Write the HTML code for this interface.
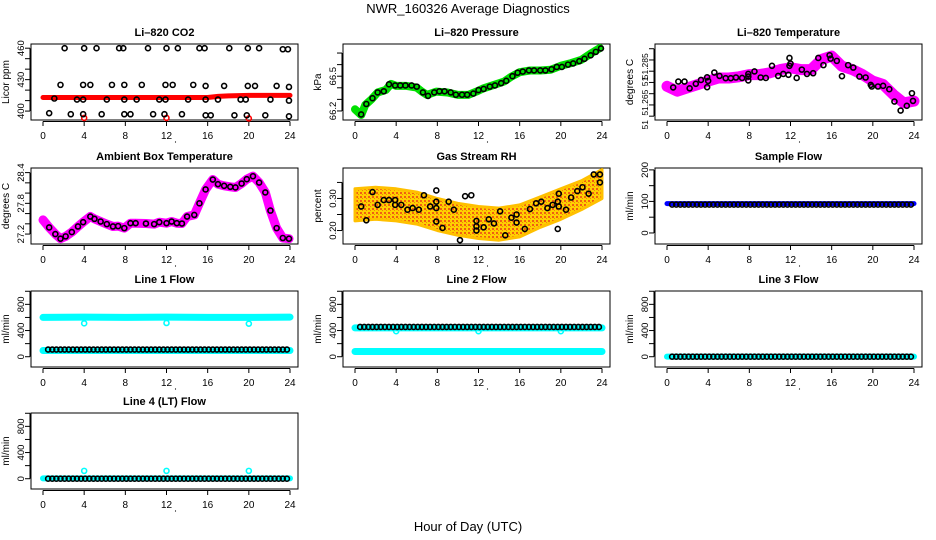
<!DOCTYPE html>
<html><head><meta charset="utf-8"><style>
html,body{margin:0;padding:0;background:#fff;}
svg{display:block;font-family:"Liberation Sans",Arial,sans-serif;}
</style></head><body>
<svg id="c" width="936" height="540" viewBox="0 0 936 540" xmlns="http://www.w3.org/2000/svg">
<defs>
<pattern id="rhpat" width="4" height="4" patternUnits="userSpaceOnUse">
<rect width="4" height="4" fill="#ffd000"/>
<rect x="0" y="0" width="2" height="2" fill="#f06010"/>
<rect x="2" y="2" width="1" height="1" fill="#f08010"/>
</pattern>
</defs>
<text x="468" y="13" font-size="13" text-anchor="middle">NWR_160326  Average Diagnostics</text>
<text x="468" y="531" font-size="13" text-anchor="middle">Hour of Day (UTC)</text>
</svg>
<script>
// ---- data ----
const flowHours=[0.5,0.9,1.3,1.7,2.1,2.5,2.9,3.3,3.7,4.1,4.5,4.9,5.3,5.7,6.1,6.5,6.9,7.3,7.7,8.1,8.5,8.9,9.3,9.7,10.1,10.5,10.9,11.3,11.7,12.1,12.5,12.9,13.3,13.7,14.1,14.5,14.9,15.3,15.7,16.1,16.5,16.9,17.3,17.7,18.1,18.5,18.9,19.3,19.7,20.1,20.5,20.9,21.3,21.7,22.1,22.5,22.9,23.3,23.7];
const sampleVals=[90,90,90,90,90,90,90,90,90,90,90,90,90,90,90,90,90,90,90,90,90,90,90,90,90,90,90,90,90,90,90,90,90,90,90,90,90,90,90,90,90,90,90,90,90,90,90,90,90,90,90,90,90,90,90,90,90,90,90];
const line1Vals=[110,110,110,110,110,110,110,110,110,110,110,110,110,110,110,110,110,110,110,110,110,110,110,110,110,110,110,110,110,110,110,110,110,110,110,110,110,110,110,110,110,110,110,110,110,110,110,110,110,110,110,110,110,110,110,110,110,110,110];
const line2Vals=[455,455,455,455,455,455,455,455,455,455,455,455,455,455,455,455,455,455,455,455,455,455,455,455,455,455,455,455,455,455,455,455,455,455,455,455,455,455,455,455,455,455,455,455,455,455,455,455,455,455,455,455,455,455,455,455,455,455,455];
const line3Vals=[0,0,0,0,0,0,0,0,0,0,0,0,0,0,0,0,0,0,0,0,0,0,0,0,0,0,0,0,0,0,0,0,0,0,0,0,0,0,0,0,0,0,0,0,0,0,0,0,0,0,0,0,0,0,0,0,0,0,0];
const line4Vals=[0,0,0,0,0,0,0,0,0,0,0,0,0,0,0,0,0,0,0,0,0,0,0,0,0,0,0,0,0,0,0,0,0,0,0,0,0,0,0,0,0,0,0,0,0,0,0,0,0,0,0,0,0,0,0,0,0,0,0];
const bandHours=[0,4,8,12,16,20,24];
const sampleBand=[93,93,93,93,93,93,93];
const line1BandHi=[600,605,600,605,600,600,605];
const line1BandLo=[95,95,95,95,95,95,95];
const line2BandHi=[440,440,440,440,440,440,440];
const line2BandLo=[80,80,80,80,80,80,80];
const line3Band=[2,2,2,2,2,2,2];
const line4Band=[5,5,5,5,5,5,5];
const spikeHours=[4,12,20];
const line1Spikes=[510,515,505];
const line2Spikes=[390,390,390];
const line4Spikes=[120,120,120];

const co2Hours=[2.1,4,5.2,7.4,7.8,10.2,12,13.1,15.2,15.7,18.1,19.9,21,23.3,23.8, 1.7,3.9,4.6,6.7,7.9,9.6,11.9,12.6,14.6,15.8,17.6,19.9,20.6,22.7,23.9, 1.1,3.3,3.9,6.2,7.9,9.1,11.3,11.9,14.1,15.8,17,19.2,19.7,22.1,23.9, 0.6,2.7,3.9,5.7,7.9,8.5,10.7,11.8,13.5,15.8,16.3,18.6,19.8,21.6,23.9];
const co2Vals=[460,460,460,460,460,460,460,460,460,460,460,460,460,459,459, 425,425,425,425,425,425,425,425,425,424,424,424,424,424,423, 412,411,411,411,411,411,411,411,411,411,411,411,411,411,410, 398,397,397,397,397,397,397,397,397,396,396,396,396,396,395];
const co2BandHours=[0,2,4,6,8,10,12,14,16,17,18,20,22,24];
const co2BandVals=[413,413,413,413,413,413,413,413,413,414,414.5,415,415,415];
const co2Red=[393.5,393.5,393];

const presBandHours=[0,0.6,1,1.6,2.2,3,3.5,4,5,6,6.5,7,7.9,9,10,11,11.8,12.5,13.5,14.5,15.2,16,17,18,19,20,21,22,23,23.8];
const presBandVals=[66.214,66.165,66.252,66.301,66.359,66.382,66.434,66.416,66.416,66.402,66.367,66.339,66.367,66.359,66.339,66.339,66.367,66.396,66.425,66.454,66.497,66.535,66.549,66.549,66.555,66.59,66.613,66.642,66.70,66.743];
const presHours=[0.6,1.1,1.7,2.2,2.8,3.3,3.9,4.4,4.9,5.5,6.0,6.6,7.1,7.7,8.2,8.7,9.3,9.8,10.4,10.9,11.5,12.0,12.5,13.1,13.6,14.2,14.7,15.3,15.8,16.3,16.9,17.4,18.0,18.5,19.1,19.6,20.1,20.7,21.2,21.8,22.3,22.9,23.4,23.9];
const presVals=[66.17,66.26,66.31,66.36,66.37,66.43,66.42,66.42,66.42,66.42,66.41,66.36,66.33,66.36,66.37,66.37,66.36,66.34,66.34,66.34,66.35,66.38,66.39,66.41,66.42,66.44,66.46,66.50,66.53,66.54,66.55,66.55,66.55,66.55,66.56,66.58,66.58,66.60,66.61,66.63,66.65,66.68,66.71,66.74];

const tempBandHours=[0,1,2,3,4,5,6,7,8,9,10,11,12,13,14,15,16,17,18,19,20,21,22,23,24];
const tempBandVals=[51.2733,51.2711,51.2726,51.2741,51.2756,51.2770,51.2770,51.2775,51.2785,51.2785,51.2793,51.2807,51.2815,51.2807,51.2807,51.2852,51.2867,51.2822,51.2807,51.2785,51.2756,51.2741,51.2696,51.2659,51.2667];
const tempHours=[0.6,1.1,1.7,2.2,2.8,3.3,3.9,3.9,4,4.6,5.1,5.7,6.2,6.7,7.3,7.9,7.9,7.9,8.5,9.1,9.6,10.2,10.8,11.3,11.8,11.9,11.9,12,12.6,13.1,13.6,14.2,14.7,15.2,15.8,15.9,16.5,17,17.6,18.1,18.7,19.3,19.8,19.9,20.5,21,21.6,22.1,22.7,23.3,23.8,23.9];
const tempVals=[51.2728,51.2754,51.2754,51.2724,51.2744,51.2761,51.2773,51.2729,51.2757,51.2794,51.2779,51.2769,51.2769,51.2772,51.2770,51.2776,51.2759,51.2788,51.2799,51.2772,51.2770,51.2824,51.2779,51.2788,51.2784,51.2824,51.2859,51.2834,51.2770,51.2807,51.2788,51.2791,51.2859,51.2827,51.2871,51.2856,51.2846,51.2778,51.2827,51.2816,51.2776,51.2772,51.2739,51.2732,51.2732,51.2735,51.2720,51.2665,51.2625,51.2646,51.2702,51.2668];
const tempLabelVals=[51.2562,51.266,51.2754,51.2822];
const tempLabelText=['51','51.265','51','51.285'];

const ambHours=[0,0.6,1.2,1.7,2.2,2.8,3.4,3.9,4.6,5,5.6,6.2,6.8,7.3,7.9,8.5,9,10,10.8,11.3,12,12.5,13,13.5,14,14.7,15.2,15.8,16.5,17,17.6,18.2,18.7,19.3,19.8,20.4,21,21.6,22.1,22.7,23.3,23.9];
const ambVals=[27.477,27.329,27.2,27.11,27.155,27.239,27.348,27.432,27.542,27.497,27.445,27.394,27.348,27.355,27.316,27.413,27.413,27.406,27.394,27.432,27.413,27.445,27.413,27.406,27.542,27.574,27.8,28.071,28.265,28.174,28.142,28.123,28.11,28.187,28.271,28.329,28.206,28.013,27.658,27.316,27.123,27.11];

const rhBandHours=[0,2,4,6,8,10,12,14,16,18,20,22,24];
const rhBandHi=[0.330,0.335,0.330,0.320,0.300,0.285,0.275,0.270,0.280,0.305,0.330,0.355,0.390];
const rhBandLo=[0.230,0.235,0.230,0.220,0.200,0.185,0.175,0.170,0.180,0.210,0.235,0.265,0.300];
const rhHours=[0.6,1.1,1.7,2.2,2.8,3.3,3.9,3.9,4.5,5.1,5.6,6.2,6.7,7.3,7.9,7.9,7.9,7.9,8.5,9.1,9.6,10.2,10.7,11.3,11.8,11.8,11.8,12.5,13,13.5,14.1,14.6,15.2,15.7,15.7,16.5,17,17.6,18.1,18.7,19.2,19.7,19.7,19.8,19.8,20.5,21,21.6,22.1,22.7,23.2,23.8,23.8];
const rhVals=[0.275,0.232,0.32,0.28,0.295,0.295,0.295,0.28,0.28,0.265,0.27,0.265,0.31,0.275,0.27,0.29,0.325,0.228,0.208,0.29,0.265,0.17,0.307,0.31,0.213,0.23,0.2,0.21,0.235,0.222,0.26,0.185,0.24,0.25,0.225,0.205,0.267,0.285,0.29,0.27,0.28,0.29,0.205,0.315,0.275,0.265,0.303,0.323,0.335,0.315,0.375,0.375,0.35];

const xTicks=[0,4,8,12,16,20,24];

// ---- layout ----
const NS="http://www.w3.org/2000/svg";
const svg=document.getElementById('c');
const colLeft=[31,343,655], rowTop=[44,168,291,413], PW=267, PH=76;
function mk(tag,attrs,parent){const e=document.createElementNS(NS,tag);for(const k in attrs)e.setAttribute(k,attrs[k]);(parent||svg).appendChild(e);return e;}

function panel(name,col,row,title,ylab,ymin,ymax,ticks,labels,lfs){
  const L=colLeft[col],T=rowTop[row],B=T+PH;
  const g=mk('g',{});
  
  
  const xs=h=>L+12+h*247/24;
  const ys=v=>B-(v-ymin)/(ymax-ymin)*PH;
  const t=mk('text',{x:L+PW/2,y:T-8,'font-size':11,'font-weight':'bold','text-anchor':'middle'},g);
  t.textContent=title;
  
  
  const box=mk('rect',{x:L,y:T,width:PW,height:PH,fill:'none',stroke:'#000','stroke-width':1},g);
  
  
  const xa=mk('g',{},g);
  
  
  mk('line',{x1:xs(0),x2:xs(24),y1:B+1.5,y2:B+1.5,stroke:'#000'},xa);
  xTicks.forEach(h=>{
    mk('line',{x1:xs(h),x2:xs(h),y1:B+1.5,y2:B+6,stroke:'#000'},xa);
    const tl=mk('text',{x:xs(h),y:B+19,'font-size':10,'text-anchor':'middle'},xa);
    tl.textContent=h;
  });
  mk('circle',{cx:L+PW/2+11,cy:B+22,r:0.6,fill:'#000'},xa);
  const ya=mk('g',{},g);
  
  
  mk('line',{x1:L-1,x2:L-1,y1:ys(ticks[0]),y2:ys(ticks[ticks.length-1]),stroke:'#000'},ya);
  ticks.forEach(v=>mk('line',{x1:L-6,x2:L-1,y1:ys(v),y2:ys(v),stroke:'#000'},ya));
  labels.forEach(([v,s])=>{
    const yl=mk('text',{x:0,y:0,'font-size':lfs||9.5,'text-anchor':'middle',transform:`translate(${L-7},${ys(v)}) rotate(-90)`},ya);
    yl.textContent=s;
  });
  const yt=mk('text',{x:0,y:0,'font-size':10,'text-anchor':'middle',transform:`translate(${L-22},${T+PH/2}) rotate(-90)`},g);
  yt.textContent=ylab;
  
  
  return {g,xs,ys};
}
function band(p,hours,vals,color,w,name){
  const pts=hours.map((h,i)=>p.xs(h).toFixed(1)+','+p.ys(vals[i]).toFixed(1)).join(' ');
  const pl=mk('polyline',{points:pts,fill:'none',stroke:color,'stroke-width':w,'stroke-linejoin':'round','stroke-linecap':'round'},p.g);
  
  
}
function area(p,hours,hi,lo,name){
  let pts=hours.map((h,i)=>p.xs(h).toFixed(1)+','+p.ys(hi[i]).toFixed(1));
  for(let i=hours.length-1;i>=0;i--)pts.push(p.xs(hours[i]).toFixed(1)+','+p.ys(lo[i]).toFixed(1));
  const pg=mk('polygon',{points:pts.join(' '),fill:'url(#rhpat)',stroke:'#ffc000','stroke-width':3,'stroke-linejoin':'round'},p.g);
  
  
}
function pts(p,hours,vals,color,name){
  hours.forEach((h,i)=>{
    const c=mk('circle',{cx:p.xs(h),cy:p.ys(vals[i]),r:2.5,fill:'none',stroke:color,'stroke-width':1.6},p.g);
    
    
  });
}

let p=panel('co2',0,0,'Li\u2013820 CO2','Licor ppm',391.5,464,[400,410,420,430,440,450,460],[[400,'400'],[430,'430'],[460,'460']]);
band(p,co2BandHours,co2BandVals,'#ff0000',5,'co2-red-band');
pts(p,spikeHours,co2Red,'#ff0000','co2-red-point');
pts(p,co2Hours,co2Vals,'#000','co2-point');

p=panel('pressure',1,0,'Li\u2013820 Pressure','kPa',66.122,66.778,[66.2,66.3,66.4,66.5,66.6,66.7],[[66.2,'66.2'],[66.5,'66.5']]);
band(p,presBandHours,presBandVals,'#00e000',8,'pressure-green-band');
pts(p,presHours,presVals,'#000','pressure-point');

p=panel('li820-temp',2,0,'Li\u2013820 Temperature','degrees C',51.2583,51.2921,[51.26,51.265,51.27,51.275,51.28,51.285,51.29],tempLabelVals.map((v,i)=>[v,tempLabelText[i]]),8.5);
band(p,tempBandHours,tempBandVals,'#ff00ff',11,'temp-magenta-band');
pts(p,tempHours,tempVals,'#000','temp-point');

p=panel('ambient-temp',0,1,'Ambient Box Temperature','degrees C',27.006,28.49,[27.2,27.4,27.6,27.8,28.0,28.2,28.4],[[27.2,'27.2'],[27.8,'27.8'],[28.4,'28.4']]);
band(p,ambHours,ambVals,'#ff00ff',9,'ambient-magenta-band');
pts(p,ambHours.slice(1),ambVals.slice(1),'#000','ambient-point');

p=panel('gas-rh',1,1,'Gas Stream RH','percent',0.158,0.395,[0.2,0.25,0.3,0.35],[[0.2,'0.20'],[0.3,'0.30']]);
area(p,rhBandHours,rhBandHi,rhBandLo,'rh-cloud');
pts(p,rhHours,rhVals,'#000','rh-point');

p=panel('sample-flow',2,1,'Sample Flow','ml/min',-35,206,[0,50,100,150,200],[[0,'0'],[100,'100'],[200,'200']]);
band(p,bandHours,sampleBand,'#0000ff',5,'sample-blue-band');
pts(p,flowHours,sampleVals,'#000','sample-point');
const flowTicks=[0,200,400,600,800,1000], flowLabels=[[0,'0'],[400,'400'],[800,'800']];

p=panel('line1-flow',0,2,'Line 1 Flow','ml/min',-157,1004,flowTicks,flowLabels);
band(p,bandHours,line1BandHi,'#00ffff',7,'line1-cyan-band-high');
band(p,bandHours,line1BandLo,'#00ffff',7,'line1-cyan-band-low');
pts(p,spikeHours,line1Spikes,'#00ffff','line1-cyan-point');
pts(p,flowHours,line1Vals,'#000','line1-point');

p=panel('line2-flow',1,2,'Line 2 Flow','ml/min',-157,1004,flowTicks,flowLabels);
band(p,bandHours,line2BandHi,'#00ffff',7,'line2-cyan-band-high');
band(p,bandHours,line2BandLo,'#00ffff',7,'line2-cyan-band-low');
pts(p,spikeHours,line2Spikes,'#00ffff','line2-cyan-point');
pts(p,flowHours,line2Vals,'#000','line2-point');

p=panel('line3-flow',2,2,'Line 3 Flow','ml/min',-157,1004,flowTicks,flowLabels);
band(p,bandHours,line3Band,'#00ffff',6,'line3-cyan-band');
pts(p,flowHours,line3Vals,'#000','line3-point');

p=panel('line4-flow',0,3,'Line 4 (LT) Flow','ml/min',-157,1004,flowTicks,flowLabels);
band(p,bandHours,line4Band,'#00ffff',6,'line4-cyan-band');
pts(p,spikeHours,line4Spikes,'#00ffff','line4-cyan-point');
pts(p,flowHours,line4Vals,'#000','line4-point');
</script>
</body></html>
